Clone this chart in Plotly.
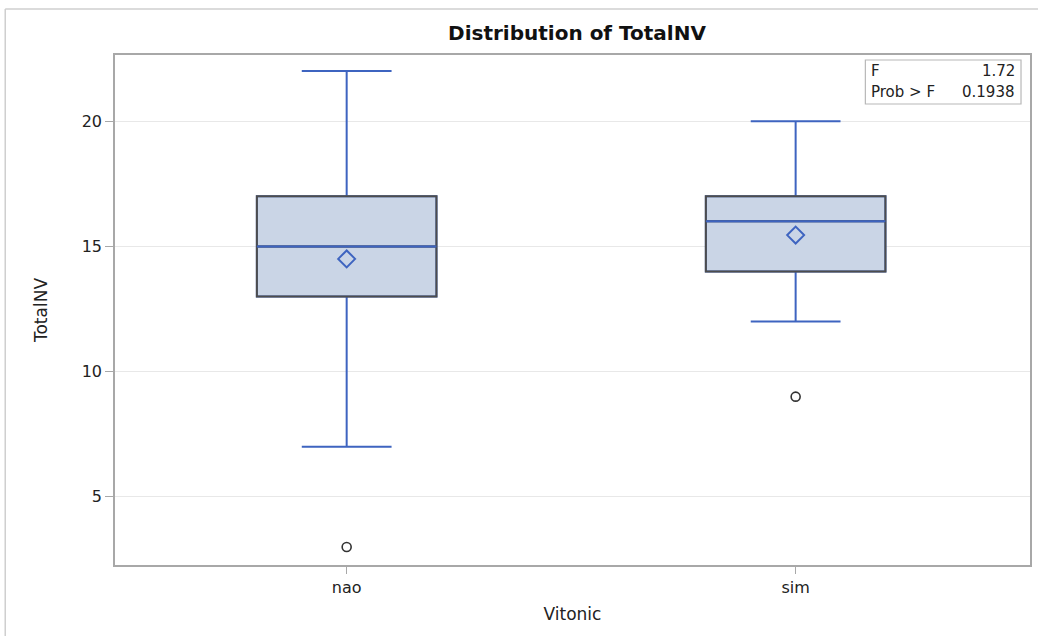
import plotly.graph_objects as go

categories = ["nao", "sim"]
q1 = [13, 14]
median = [15, 16]
q3 = [17, 17]
lower_whisker = [7, 12]
upper_whisker = [22, 20]
means = [14.5, 15.45]
outlier_cat = ["nao", "sim"]
outlier_val = [3, 9]
stat_labels = ["F", "Prob > F"]
stat_values = ["1.72", "0.1938"]

BLUE = "#3e64c0"
FILL = "#cad5e6"
EDGE = "#4d4d4d"
FONT = "DejaVu Sans, Liberation Sans, Arial, sans-serif"

W, H = 1038, 636
L, R, T, B = 115, 6, 55, 71
pw, ph = W - L - R, H - T - B

def px_to_paper_x(px):
    return (px - L) / pw

def px_to_paper_y(py):
    return 1 - (py - T) / ph

fig = go.Figure()

fig.add_trace(go.Box(
    x=categories, q1=q1, median=median, q3=q3,
    lowerfence=lower_whisker, upperfence=upper_whisker,
    fillcolor=FILL, line=dict(color=BLUE, width=2),
    whiskerwidth=0.5, width=0.4, boxpoints=False, showlegend=False,
    hoverinfo="skip",
))
# dark outline (fences at quartiles so no whiskers); its median is covered by the blue one
fig.add_trace(go.Box(
    x=categories, q1=q1, median=median, q3=q3,
    lowerfence=q1, upperfence=q3,
    fillcolor="rgba(0,0,0,0)", line=dict(color=EDGE, width=2),
    whiskerwidth=0, width=0.4, boxpoints=False, showlegend=False,
    hoverinfo="skip",
))
fig.add_trace(go.Box(
    x=categories, q1=median, median=median, q3=median,
    lowerfence=median, upperfence=median,
    fillcolor="rgba(0,0,0,0)", line=dict(color=BLUE, width=2),
    whiskerwidth=0, width=0.4, boxpoints=False, showlegend=False,
    hoverinfo="skip",
))
fig.add_trace(go.Scatter(
    x=categories, y=means, mode="markers",
    marker=dict(symbol="diamond-open", size=13, color=BLUE, line=dict(width=2)),
    showlegend=False,
))
fig.add_trace(go.Scatter(
    x=outlier_cat, y=outlier_val, mode="markers",
    marker=dict(symbol="circle-open", size=9, color="#333333", line=dict(width=1.6)),
    showlegend=False,
))

fig.update_layout(
    width=W, height=H,
    margin=dict(l=L, r=R, t=T, b=B),
    paper_bgcolor="white", plot_bgcolor="white",
    boxmode="overlay",
    font=dict(family=FONT, size=16, color="#222222"),
    title=dict(text="<b>Distribution of TotalNV</b>", x=px_to_paper_x(578), xref="paper",
               xanchor="center", y=1 - 33 / H, yanchor="middle",
               font=dict(family=FONT, size=20, color="#111111")),
    xaxis=dict(
        type="category", range=[-0.516, 1.522],
        showline=True, linecolor="#a8a8a8", linewidth=1.5, mirror=True,
        ticks="outside", ticklen=7, tickcolor="#a8a8a8",
        showgrid=False, zeroline=False,
        tickfont=dict(size=16, color="#222222"),
        title=dict(text="Vitonic", font=dict(size=17, color="#222222"), standoff=12),
    ),
    yaxis=dict(
        range=[2.28, 22.64], tickvals=[5, 10, 15, 20],
        showline=True, linecolor="#a8a8a8", linewidth=1.5, mirror=True,
        ticks="outside", ticklen=8, tickcolor="#a8a8a8",
        showgrid=True, gridcolor="#e8e8e8", gridwidth=1, zeroline=False,
        tickfont=dict(size=16, color="#222222"),
        title=dict(text="TotalNV", font=dict(size=17, color="#222222"), standoff=30),
    ),
)

shapes = []
shapes.append(dict(type="line", xref="paper", yref="paper",
                   x0=px_to_paper_x(5), x1=px_to_paper_x(5),
                   y0=px_to_paper_y(9), y1=px_to_paper_y(640),
                   line=dict(color="#cfcfcf", width=1.5)))
shapes.append(dict(type="line", xref="paper", yref="paper",
                   x0=px_to_paper_x(5), x1=px_to_paper_x(1040),
                   y0=px_to_paper_y(9), y1=px_to_paper_y(9),
                   line=dict(color="#cfcfcf", width=1.5)))
shapes.append(dict(type="rect", xref="paper", yref="paper",
                   x0=px_to_paper_x(867), x1=px_to_paper_x(1023),
                   y0=px_to_paper_y(104), y1=px_to_paper_y(60),
                   line=dict(color="#b8b8b8", width=1.2), fillcolor="white"))
fig.update_layout(shapes=shapes)

row_y = [71, 92]
for lab, val, yy in zip(stat_labels, stat_values, row_y):
    fig.add_annotation(text=lab, xref="paper", yref="paper",
                       x=px_to_paper_x(871), y=px_to_paper_y(yy),
                       xanchor="left", yanchor="middle", showarrow=False,
                       font=dict(size=15, color="#222222"))
    fig.add_annotation(text=val, xref="paper", yref="paper",
                       x=px_to_paper_x(1019), y=px_to_paper_y(yy),
                       xanchor="right", yanchor="middle", showarrow=False,
                       font=dict(size=15, color="#222222"))

fig.write_html("out.html", config={"displayModeBar": False},
               post_script="document.body.style.margin='0px';document.body.style.overflow='hidden';")
